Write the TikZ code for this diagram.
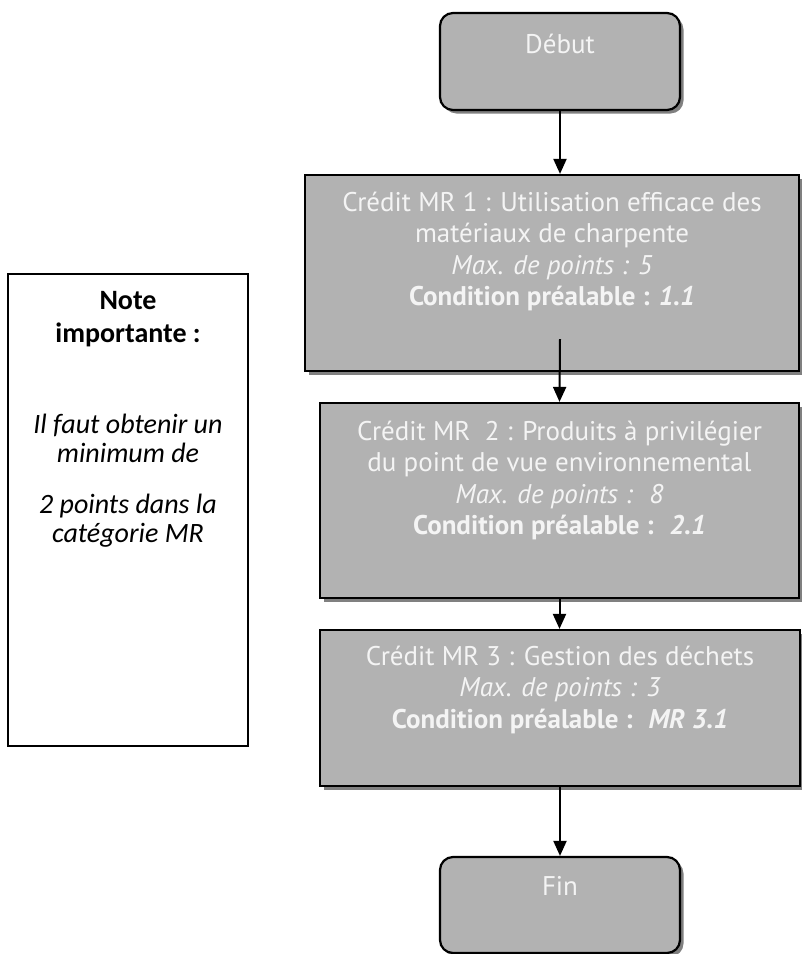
\documentclass[tikz,border=0pt]{standalone}
\usepackage{fontspec}
\setmainfont{PT Sans}
\newfontfamily\notefont{Carlito}
\usepackage{xcolor}
\usetikzlibrary{arrows.meta,positioning,shadows}
\definecolor{boxfill}{HTML}{B2B2B2}
\definecolor{shade}{HTML}{808080}
\definecolor{ink}{HTML}{000000}
\definecolor{paper}{HTML}{F4F4F4}
\tikzset{
  proc/.style={rectangle, draw=ink, line width=2.2pt, fill=boxfill, inner sep=0pt,
    drop shadow={shadow xshift=3.5pt, shadow yshift=-3.5pt, fill=shade, opacity=1}},
  term/.style={proc, rounded corners=13pt},
  txt/.style={text=paper, align=center, anchor=north, inner sep=0pt,
    font=\fontsize{27}{31.5}\selectfont},
  note/.style={rectangle, draw=ink, line width=1.8pt, fill=white, inner sep=0pt},
  notetxt/.style={text=ink, align=center, anchor=north, inner sep=0pt,
    font=\notefont\fontsize{28}{29}\selectfont},
  arr/.style={-{Triangle[width=13pt,length=15pt]}, line width=2pt, draw=ink}
}
\begin{document}
\begin{tikzpicture}[x=1pt, y=-1pt]
  \useasboundingbox (0,0) rectangle (802,954);

  % start / end
  \node[term, minimum width=240pt, minimum height=97pt] (deb) at (560,61.5) {};
  \node[term, minimum width=240pt, minimum height=96pt] (fin) at (560,905) {};

  % credits
  \node[proc, minimum width=494pt, minimum height=196pt] (b1) at (552,273) {};
  \node[proc, minimum width=479pt, minimum height=195pt] (b2) at (559.5,500.5) {};
  \node[proc, minimum width=480pt, minimum height=156pt] (b3) at (560,708) {};

  % side note
  \node[note, minimum width=240pt, minimum height=472pt] (nb) at (128,510) {};

  \node[txt] (debt) at (560,33.5) {Début};
  \node[txt] (fint) at (560,876.5) {Fin};
  \node[txt] (b1t) at (552,191.5) {Crédit MR 1 : Utilisation efficace des\\
    matériaux de charpente\\ \textit{Max. de points : 5}\\
    \textbf{Condition préalable : \textit{1.1}}};
  \node[txt] (b2t) at (559.5,420.5) {Crédit MR~ 2 : Produits à privilégier\\
    du point de vue environnemental\\ \textit{Max. de points :~ 8}\\
    \textbf{Condition préalable :~ \textit{2.1}}};
  \node[txt] (b3t) at (560,645.5) {Crédit MR 3 : Gestion des déchets\\
    \textit{Max. de points : 3}\\
    \textbf{Condition préalable :~ \textit{MR 3.1}}};
  \node[notetxt] (nt) at (128,291.5) {\textbf{Note}\\[4pt]\textbf{importante :}\\[62pt]
    \textit{Il faut obtenir un}\\ \textit{minimum de}\\[22pt]
    \textit{2 points dans la}\\ \textit{catégorie MR}};

  \draw[arr] (deb.south) -- (deb.south |- b1.north);
  \draw[arr] (deb.south |- b1.south) ++(0,-33) -- (b2.north);
  \draw[arr] (b2.south) -- (b2.south |- b3.north);
  \draw[arr] (b3.south) -- (b3.south |- fin.north);
\end{tikzpicture}
\end{document}
